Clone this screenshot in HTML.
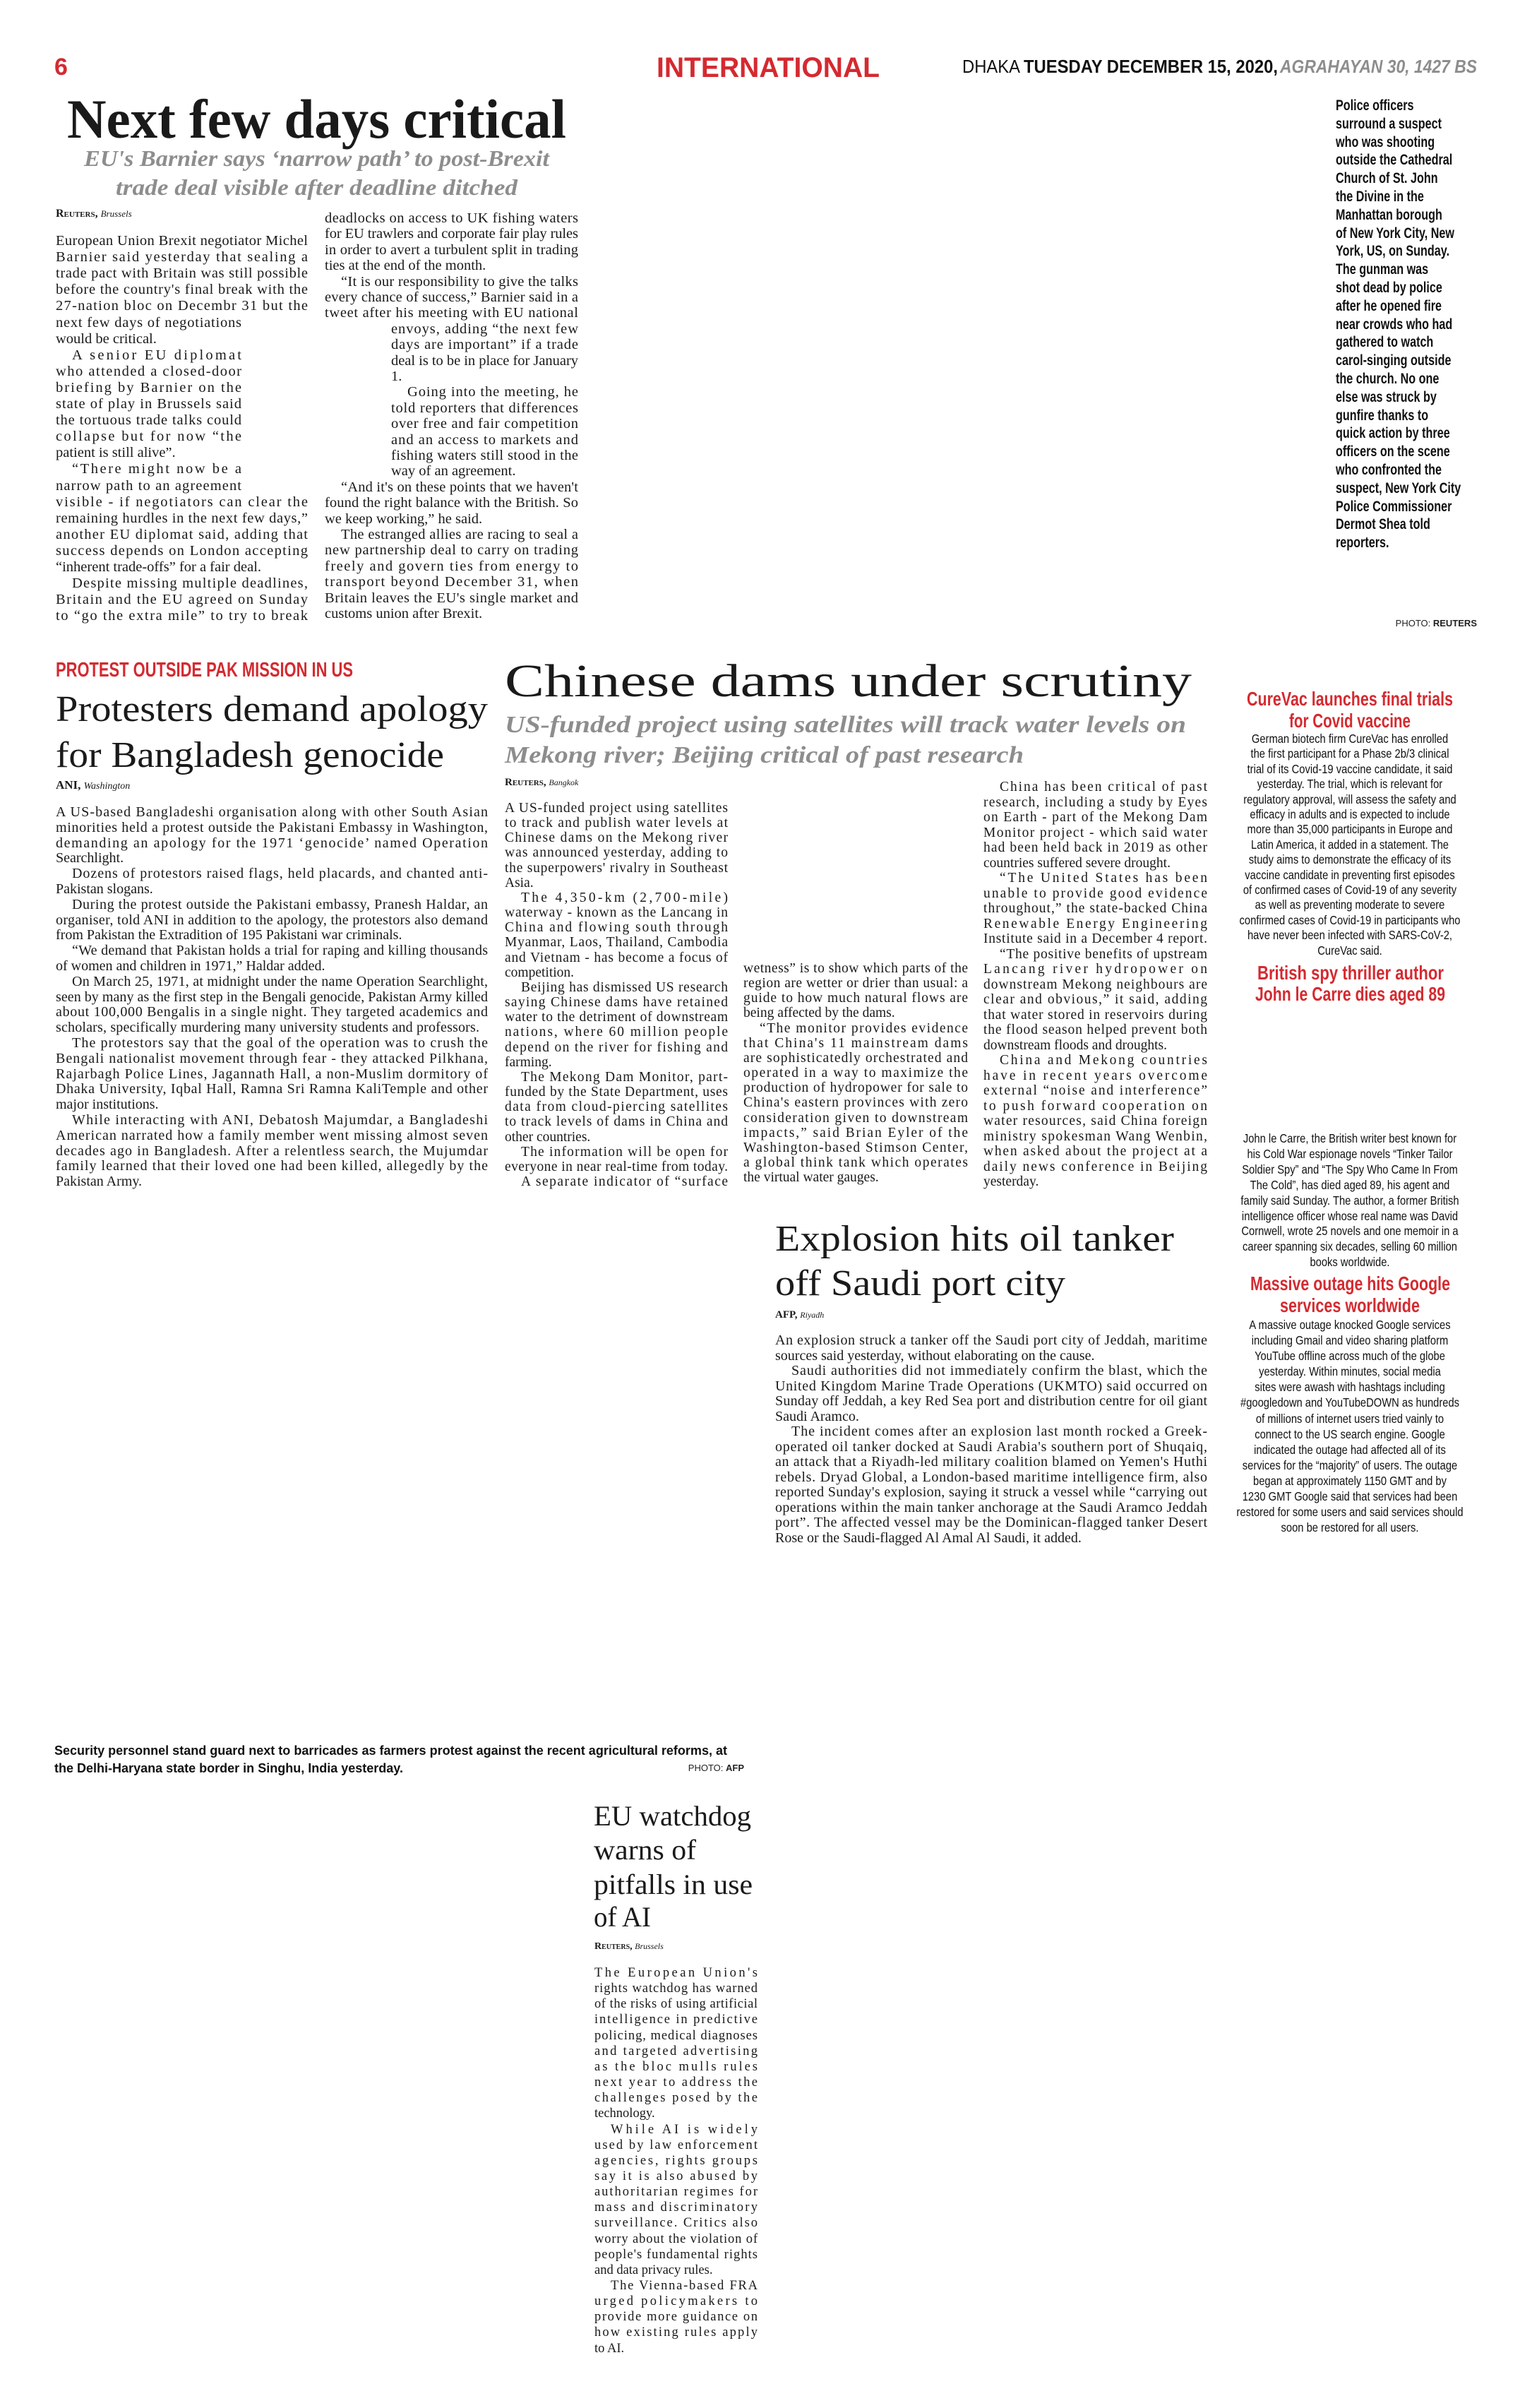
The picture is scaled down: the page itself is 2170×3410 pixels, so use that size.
<!DOCTYPE html>
<html><head><meta charset="utf-8">
<style>
html,body{margin:0;padding:0;background:#fff;}
svg{display:block;}
.s{font-family:"Liberation Serif",serif;fill:#1a1a1a;}
.a{font-family:"Liberation Sans",sans-serif;}
.t1{font-size:20.5px;}
.t2{font-size:20px;}
.t3{font-size:19.5px;}
.t4{font-size:18.5px;}
.red{fill:#d42a30;}
.gray{fill:#8d8d8d;}
</style></head>
<body>
<svg width="2170" height="3410" viewBox="0 0 2170 3410" xmlns="http://www.w3.org/2000/svg">
<rect width="2170" height="3410" fill="#fff"/>

<!-- Masthead -->
<text x="77" y="106" class="a red" font-size="34" font-weight="bold">6</text>
<text x="930" y="109" class="a red" font-size="40" font-weight="bold" textLength="316" lengthAdjust="spacingAndGlyphs">INTERNATIONAL</text>
<text x="1363" y="103" class="a" font-size="26" fill="#111" textLength="82" lengthAdjust="spacingAndGlyphs">DHAKA</text>
<text x="1450" y="103" class="a" font-size="26" font-weight="bold" fill="#111" textLength="360" lengthAdjust="spacingAndGlyphs">TUESDAY DECEMBER 15, 2020,</text>
<text x="1813" y="103" class="a gray" font-size="26" font-weight="bold" font-style="italic" textLength="279" lengthAdjust="spacingAndGlyphs">AGRAHAYAN 30, 1427 BS</text>

<!-- Top story -->
<text x="95" y="195" class="s" font-size="78" font-weight="bold" fill="#000" textLength="707" lengthAdjust="spacingAndGlyphs">Next few days critical</text>
<text x="119" y="235" class="s gray" font-size="32" font-style="italic" font-weight="bold" textLength="659" lengthAdjust="spacingAndGlyphs">EU's Barnier says ‘narrow path’ to post-Brexit</text>
<text x="164" y="276" class="s gray" font-size="32" font-style="italic" font-weight="bold" textLength="569" lengthAdjust="spacingAndGlyphs">trade deal visible after deadline ditched</text>
<text x="79" y="307" class="s" font-size="16"><tspan font-weight="bold" font-variant="small-caps">Reuters,</tspan> <tspan font-style="italic" font-size="13">Brussels</tspan></text>

<g class="s t1">
<text x="79" y="347" textLength="357" lengthAdjust="spacing">European Union Brexit negotiator Michel</text>
<text x="79" y="370" textLength="357" lengthAdjust="spacing">Barnier said yesterday that sealing a</text>
<text x="79" y="393" textLength="357" lengthAdjust="spacing">trade pact with Britain was still possible</text>
<text x="79" y="416" textLength="357" lengthAdjust="spacing">before the country's final break with the</text>
<text x="79" y="439" textLength="357" lengthAdjust="spacing">27-nation bloc on Decembr 31 but the</text>
<text x="79" y="463" textLength="263" lengthAdjust="spacing">next few days of negotiations</text>
<text x="79" y="486">would be critical.</text>
<text x="102" y="509" textLength="240" lengthAdjust="spacing">A senior EU diplomat</text>
<text x="79" y="532" textLength="263" lengthAdjust="spacing">who attended a closed-door</text>
<text x="79" y="555" textLength="263" lengthAdjust="spacing">briefing by Barnier on the</text>
<text x="79" y="578" textLength="263" lengthAdjust="spacing">state of play in Brussels said</text>
<text x="79" y="601" textLength="263" lengthAdjust="spacing">the tortuous trade talks could</text>
<text x="79" y="624" textLength="263" lengthAdjust="spacing">collapse but for now “the</text>
<text x="79" y="647">patient is still alive”.</text>
<text x="102" y="670" textLength="240" lengthAdjust="spacing">“There might now be a</text>
<text x="79" y="694" textLength="263" lengthAdjust="spacing">narrow path to an agreement</text>
<text x="79" y="717" textLength="357" lengthAdjust="spacing">visible - if negotiators can clear the</text>
<text x="79" y="740" textLength="357" lengthAdjust="spacing">remaining hurdles in the next few days,”</text>
<text x="79" y="763" textLength="357" lengthAdjust="spacing">another EU diplomat said, adding that</text>
<text x="79" y="786" textLength="357" lengthAdjust="spacing">success depends on London accepting</text>
<text x="79" y="809">“inherent trade-offs” for a fair deal.</text>
<text x="102" y="832" textLength="334" lengthAdjust="spacing">Despite missing multiple deadlines,</text>
<text x="79" y="855" textLength="357" lengthAdjust="spacing">Britain and the EU agreed on Sunday</text>
<text x="79" y="878" textLength="357" lengthAdjust="spacing">to “go the extra mile” to try to break</text>

<text x="460" y="315" textLength="359" lengthAdjust="spacing">deadlocks on access to UK fishing waters</text>
<text x="460" y="337" textLength="359" lengthAdjust="spacing">for EU trawlers and corporate fair play rules</text>
<text x="460" y="360" textLength="359" lengthAdjust="spacing">in order to avert a turbulent split in trading</text>
<text x="460" y="382">ties at the end of the month.</text>
<text x="483" y="405" textLength="336" lengthAdjust="spacing">“It is our responsibility to give the talks</text>
<text x="460" y="427" textLength="359" lengthAdjust="spacing">every chance of success,” Barnier said in a</text>
<text x="460" y="449" textLength="359" lengthAdjust="spacing">tweet after his meeting with EU national</text>
<text x="554" y="472" textLength="265" lengthAdjust="spacing">envoys, adding “the next few</text>
<text x="554" y="494" textLength="265" lengthAdjust="spacing">days are important” if a trade</text>
<text x="554" y="517" textLength="265" lengthAdjust="spacing">deal is to be in place for January</text>
<text x="554" y="539">1.</text>
<text x="577" y="561" textLength="242" lengthAdjust="spacing">Going into the meeting, he</text>
<text x="554" y="584" textLength="265" lengthAdjust="spacing">told reporters that differences</text>
<text x="554" y="606" textLength="265" lengthAdjust="spacing">over free and fair competition</text>
<text x="554" y="629" textLength="265" lengthAdjust="spacing">and an access to markets and</text>
<text x="554" y="651" textLength="265" lengthAdjust="spacing">fishing waters still stood in the</text>
<text x="554" y="673">way of an agreement.</text>
<text x="483" y="696" textLength="336" lengthAdjust="spacing">“And it's on these points that we haven't</text>
<text x="460" y="718" textLength="359" lengthAdjust="spacing">found the right balance with the British. So</text>
<text x="460" y="741">we keep working,” he said.</text>
<text x="483" y="763" textLength="336" lengthAdjust="spacing">The estranged allies are racing to seal a</text>
<text x="460" y="785" textLength="359" lengthAdjust="spacing">new partnership deal to carry on trading</text>
<text x="460" y="808" textLength="359" lengthAdjust="spacing">freely and govern ties from energy to</text>
<text x="460" y="830" textLength="359" lengthAdjust="spacing">transport beyond December 31, when</text>
<text x="460" y="853" textLength="359" lengthAdjust="spacing">Britain leaves the EU's single market and</text>
<text x="460" y="875">customs union after Brexit.</text>
</g>

<!-- Police caption -->
<g transform="translate(1892,0) scale(0.77,1)" class="a" font-size="21" font-weight="bold" fill="#111">
<text x="0" y="156">Police officers</text>
<text x="0" y="182">surround a suspect</text>
<text x="0" y="208">who was shooting</text>
<text x="0" y="233">outside the Cathedral</text>
<text x="0" y="259">Church of St. John</text>
<text x="0" y="285">the Divine in the</text>
<text x="0" y="311">Manhattan borough</text>
<text x="0" y="337">of New York City, New</text>
<text x="0" y="362">York, US, on Sunday.</text>
<text x="0" y="388">The gunman was</text>
<text x="0" y="414">shot dead by police</text>
<text x="0" y="440">after he opened fire</text>
<text x="0" y="466">near crowds who had</text>
<text x="0" y="491">gathered to watch</text>
<text x="0" y="517">carol-singing outside</text>
<text x="0" y="543">the church. No one</text>
<text x="0" y="569">else was struck by</text>
<text x="0" y="595">gunfire thanks to</text>
<text x="0" y="620">quick action by three</text>
<text x="0" y="646">officers on the scene</text>
<text x="0" y="672">who confronted the</text>
<text x="0" y="698">suspect, New York City</text>
<text x="0" y="724">Police Commissioner</text>
<text x="0" y="749">Dermot Shea told</text>
<text x="0" y="775">reporters.</text>
</g>
<text x="2092" y="887" class="a" font-size="13" text-anchor="end" fill="#222">PHOTO: <tspan font-weight="bold">REUTERS</tspan></text>

<!-- Protest -->
<text x="79" y="958" class="a red" font-size="29" font-weight="bold" textLength="421" lengthAdjust="spacingAndGlyphs">PROTEST OUTSIDE PAK MISSION IN US</text>
<text x="79" y="1021" class="s" font-size="52" fill="#000" textLength="612" lengthAdjust="spacingAndGlyphs">Protesters demand apology</text>
<text x="79" y="1086" class="s" font-size="52" fill="#000" textLength="550" lengthAdjust="spacingAndGlyphs">for Bangladesh genocide</text>
<text x="79" y="1117" class="s" font-size="17"><tspan font-weight="bold">ANI,</tspan> <tspan font-style="italic" font-size="14">Washington</tspan></text>
<g class="s t2">
<text x="79" y="1156" textLength="612" lengthAdjust="spacing">A US-based Bangladeshi organisation along with other South Asian</text>
<text x="79" y="1178" textLength="612" lengthAdjust="spacing">minorities held a protest outside the Pakistani Embassy in Washington,</text>
<text x="79" y="1200" textLength="612" lengthAdjust="spacing">demanding an apology for the 1971 ‘genocide’ named Operation</text>
<text x="79" y="1221">Searchlight.</text>
<text x="102" y="1243" textLength="589" lengthAdjust="spacing">Dozens of protestors raised flags, held placards, and chanted anti-</text>
<text x="79" y="1265">Pakistan slogans.</text>
<text x="102" y="1287" textLength="589" lengthAdjust="spacing">During the protest outside the Pakistani embassy, Pranesh Haldar, an</text>
<text x="79" y="1309" textLength="612" lengthAdjust="spacing">organiser, told ANI in addition to the apology, the protestors also demand</text>
<text x="79" y="1330">from Pakistan the Extradition of 195 Pakistani war criminals.</text>
<text x="102" y="1352" textLength="589" lengthAdjust="spacing">“We demand that Pakistan holds a trial for raping and killing thousands</text>
<text x="79" y="1374">of women and children in 1971,” Haldar added.</text>
<text x="102" y="1396" textLength="589" lengthAdjust="spacing">On March 25, 1971, at midnight under the name Operation Searchlight,</text>
<text x="79" y="1418" textLength="612" lengthAdjust="spacing">seen by many as the first step in the Bengali genocide, Pakistan Army killed</text>
<text x="79" y="1439" textLength="612" lengthAdjust="spacing">about 100,000 Bengalis in a single night. They targeted academics and</text>
<text x="79" y="1461" textLength="600" lengthAdjust="spacing">scholars, specifically murdering many university students and professors.</text>
<text x="102" y="1483" textLength="589" lengthAdjust="spacing">The protestors say that the goal of the operation was to crush the</text>
<text x="79" y="1505" textLength="612" lengthAdjust="spacing">Bengali nationalist movement through fear - they attacked Pilkhana,</text>
<text x="79" y="1527" textLength="612" lengthAdjust="spacing">Rajarbagh Police Lines, Jagannath Hall, a non-Muslim dormitory of</text>
<text x="79" y="1548" textLength="612" lengthAdjust="spacing">Dhaka University, Iqbal Hall, Ramna Sri Ramna KaliTemple and other</text>
<text x="79" y="1570">major institutions.</text>
<text x="102" y="1592" textLength="589" lengthAdjust="spacing">While interacting with ANI, Debatosh Majumdar, a Bangladeshi</text>
<text x="79" y="1614" textLength="612" lengthAdjust="spacing">American narrated how a family member went missing almost seven</text>
<text x="79" y="1636" textLength="612" lengthAdjust="spacing">decades ago in Bangladesh.  After a relentless search, the Mujumdar</text>
<text x="79" y="1657" textLength="612" lengthAdjust="spacing">family learned that their loved one had been killed, allegedly by the</text>
<text x="79" y="1679">Pakistan Army.</text>
</g>

<!-- Chinese dams -->
<text x="715" y="986" class="s" font-size="66" fill="#000" textLength="973" lengthAdjust="spacingAndGlyphs">Chinese dams under scrutiny</text>
<text x="715" y="1037" class="s gray" font-size="34" font-style="italic" font-weight="bold" textLength="965" lengthAdjust="spacingAndGlyphs">US-funded project using satellites will track water levels on</text>
<text x="715" y="1080" class="s gray" font-size="34" font-style="italic" font-weight="bold" textLength="735" lengthAdjust="spacingAndGlyphs">Mekong river; Beijing critical of past research</text>
<text x="715" y="1112" class="s" font-size="15"><tspan font-weight="bold" font-variant="small-caps">Reuters,</tspan> <tspan font-style="italic" font-size="12">Bangkok</tspan></text>
<g class="s t3">
<text x="715" y="1150" textLength="316" lengthAdjust="spacing">A US-funded project using satellites</text>
<text x="715" y="1171" textLength="316" lengthAdjust="spacing">to track and publish water levels at</text>
<text x="715" y="1192" textLength="316" lengthAdjust="spacing">Chinese dams on the Mekong river</text>
<text x="715" y="1213" textLength="316" lengthAdjust="spacing">was announced yesterday, adding to</text>
<text x="715" y="1235" textLength="316" lengthAdjust="spacing">the superpowers' rivalry in Southeast</text>
<text x="715" y="1256">Asia.</text>
<text x="738" y="1277" textLength="293" lengthAdjust="spacing">The 4,350-km (2,700-mile)</text>
<text x="715" y="1298" textLength="316" lengthAdjust="spacing">waterway - known as the Lancang in</text>
<text x="715" y="1319" textLength="316" lengthAdjust="spacing">China and flowing south through</text>
<text x="715" y="1340" textLength="316" lengthAdjust="spacing">Myanmar, Laos, Thailand, Cambodia</text>
<text x="715" y="1362" textLength="316" lengthAdjust="spacing">and Vietnam - has become a focus of</text>
<text x="715" y="1383">competition.</text>
<text x="738" y="1404" textLength="293" lengthAdjust="spacing">Beijing has dismissed US research</text>
<text x="715" y="1425" textLength="316" lengthAdjust="spacing">saying Chinese dams have retained</text>
<text x="715" y="1446" textLength="316" lengthAdjust="spacing">water to the detriment of downstream</text>
<text x="715" y="1467" textLength="316" lengthAdjust="spacing">nations, where 60 million people</text>
<text x="715" y="1489" textLength="316" lengthAdjust="spacing">depend on the river for fishing and</text>
<text x="715" y="1510">farming.</text>
<text x="738" y="1531" textLength="293" lengthAdjust="spacing">The Mekong Dam Monitor, part-</text>
<text x="715" y="1552" textLength="316" lengthAdjust="spacing">funded by the State Department, uses</text>
<text x="715" y="1573" textLength="316" lengthAdjust="spacing">data from cloud-piercing satellites</text>
<text x="715" y="1594" textLength="316" lengthAdjust="spacing">to track levels of dams in China and</text>
<text x="715" y="1616">other countries.</text>
<text x="738" y="1637" textLength="293" lengthAdjust="spacing">The information will be open for</text>
<text x="715" y="1658" textLength="316" lengthAdjust="spacing">everyone in near real-time from today.</text>
<text x="738" y="1679" textLength="293" lengthAdjust="spacing">A separate indicator of “surface</text>

<text x="1053" y="1377" textLength="318" lengthAdjust="spacing">wetness” is to show which parts of the</text>
<text x="1053" y="1398" textLength="318" lengthAdjust="spacing">region are wetter or drier than usual: a</text>
<text x="1053" y="1419" textLength="318" lengthAdjust="spacing">guide to how much natural flows are</text>
<text x="1053" y="1440">being affected by the dams.</text>
<text x="1076" y="1462" textLength="295" lengthAdjust="spacing">“The monitor provides evidence</text>
<text x="1053" y="1483" textLength="318" lengthAdjust="spacing">that China's 11 mainstream dams</text>
<text x="1053" y="1504" textLength="318" lengthAdjust="spacing">are sophisticatedly orchestrated and</text>
<text x="1053" y="1525" textLength="318" lengthAdjust="spacing">operated in a way to maximize the</text>
<text x="1053" y="1546" textLength="318" lengthAdjust="spacing">production of hydropower for sale to</text>
<text x="1053" y="1567" textLength="318" lengthAdjust="spacing">China's eastern provinces with zero</text>
<text x="1053" y="1589" textLength="318" lengthAdjust="spacing">consideration given to downstream</text>
<text x="1053" y="1610" textLength="318" lengthAdjust="spacing">impacts,” said Brian Eyler of the</text>
<text x="1053" y="1631" textLength="318" lengthAdjust="spacing">Washington-based Stimson Center,</text>
<text x="1053" y="1652" textLength="318" lengthAdjust="spacing">a global think tank which operates</text>
<text x="1053" y="1673">the virtual water gauges.</text>

<text x="1416" y="1120" textLength="294" lengthAdjust="spacing">China has been critical of past</text>
<text x="1393" y="1142" textLength="317" lengthAdjust="spacing">research, including a study by Eyes</text>
<text x="1393" y="1163" textLength="317" lengthAdjust="spacing">on Earth - part of the Mekong Dam</text>
<text x="1393" y="1185" textLength="317" lengthAdjust="spacing">Monitor project - which said water</text>
<text x="1393" y="1206" textLength="317" lengthAdjust="spacing">had been held back in 2019 as other</text>
<text x="1393" y="1228">countries suffered severe drought.</text>
<text x="1416" y="1249" textLength="294" lengthAdjust="spacing">“The United States has been</text>
<text x="1393" y="1271" textLength="317" lengthAdjust="spacing">unable to provide good evidence</text>
<text x="1393" y="1292" textLength="317" lengthAdjust="spacing">throughout,” the state-backed China</text>
<text x="1393" y="1314" textLength="317" lengthAdjust="spacing">Renewable Energy Engineering</text>
<text x="1393" y="1335" textLength="317" lengthAdjust="spacing">Institute said in a December 4 report.</text>
<text x="1416" y="1357" textLength="294" lengthAdjust="spacing">“The positive benefits of upstream</text>
<text x="1393" y="1378" textLength="317" lengthAdjust="spacing">Lancang river hydropower on</text>
<text x="1393" y="1400" textLength="317" lengthAdjust="spacing">downstream Mekong neighbours are</text>
<text x="1393" y="1421" textLength="317" lengthAdjust="spacing">clear and obvious,” it said, adding</text>
<text x="1393" y="1443" textLength="317" lengthAdjust="spacing">that water stored in reservoirs during</text>
<text x="1393" y="1464" textLength="317" lengthAdjust="spacing">the flood season helped prevent both</text>
<text x="1393" y="1486">downstream floods and droughts.</text>
<text x="1416" y="1507" textLength="294" lengthAdjust="spacing">China and Mekong countries</text>
<text x="1393" y="1529" textLength="317" lengthAdjust="spacing">have in recent years overcome</text>
<text x="1393" y="1550" textLength="317" lengthAdjust="spacing">external “noise and interference”</text>
<text x="1393" y="1572" textLength="317" lengthAdjust="spacing">to push forward cooperation on</text>
<text x="1393" y="1593" textLength="317" lengthAdjust="spacing">water resources, said China foreign</text>
<text x="1393" y="1615" textLength="317" lengthAdjust="spacing">ministry spokesman Wang Wenbin,</text>
<text x="1393" y="1636" textLength="317" lengthAdjust="spacing">when asked about the project at a</text>
<text x="1393" y="1658" textLength="317" lengthAdjust="spacing">daily news conference in Beijing</text>
<text x="1393" y="1679">yesterday.</text>
</g>

<!-- Right briefs -->
<text x="1766" y="999" class="a red" font-size="28" font-weight="bold" textLength="292" lengthAdjust="spacingAndGlyphs">CureVac launches final trials</text>
<text x="1826" y="1030" class="a red" font-size="28" font-weight="bold" textLength="172" lengthAdjust="spacingAndGlyphs">for Covid vaccine</text>
<g transform="translate(1912,0) scale(0.82,1)" class="a" font-size="18" fill="#111" text-anchor="middle">
<text x="0" y="1052">German biotech firm CureVac has enrolled</text>
<text x="0" y="1073">the first participant for a Phase 2b/3 clinical</text>
<text x="0" y="1095">trial of its Covid-19 vaccine candidate, it said</text>
<text x="0" y="1116">yesterday. The trial, which is relevant for</text>
<text x="0" y="1138">regulatory approval, will assess the safety and</text>
<text x="0" y="1159">efficacy in adults and is expected to include</text>
<text x="0" y="1180">more than 35,000 participants in Europe and</text>
<text x="0" y="1202">Latin America, it added in a statement. The</text>
<text x="0" y="1223">study aims to demonstrate the efficacy of its</text>
<text x="0" y="1245">vaccine candidate in preventing first episodes</text>
<text x="0" y="1266">of confirmed cases of Covid-19 of any severity</text>
<text x="0" y="1287">as well as preventing moderate to severe</text>
<text x="0" y="1309">confirmed cases of Covid-19 in participants who</text>
<text x="0" y="1330">have never been infected with SARS-CoV-2,</text>
<text x="0" y="1352">CureVac said.</text>
</g>
<text x="1781" y="1387" class="a red" font-size="28" font-weight="bold" textLength="264" lengthAdjust="spacingAndGlyphs">British spy thriller author</text>
<text x="1778" y="1417" class="a red" font-size="28" font-weight="bold" textLength="269" lengthAdjust="spacingAndGlyphs">John le Carre dies aged 89</text>

<g transform="translate(1912,0) scale(0.82,1)" class="a" font-size="18" fill="#111" text-anchor="middle">
<text x="0" y="1618">John le Carre, the British writer best known for</text>
<text x="0" y="1640">his Cold War espionage novels “Tinker Tailor</text>
<text x="0" y="1662">Soldier Spy” and “The Spy Who Came In From</text>
<text x="0" y="1684">The Cold”, has died aged 89, his agent and</text>
<text x="0" y="1706">family said Sunday. The author, a former British</text>
<text x="0" y="1728">intelligence officer whose real name was David</text>
<text x="0" y="1749">Cornwell, wrote 25 novels and one memoir in a</text>
<text x="0" y="1771">career spanning six decades, selling 60 million</text>
<text x="0" y="1793">books worldwide.</text>
</g>
<text x="1771" y="1827" class="a red" font-size="28" font-weight="bold" textLength="283" lengthAdjust="spacingAndGlyphs">Massive outage hits Google</text>
<text x="1813" y="1858" class="a red" font-size="28" font-weight="bold" textLength="198" lengthAdjust="spacingAndGlyphs">services worldwide</text>
<g transform="translate(1912,0) scale(0.82,1)" class="a" font-size="18" fill="#111" text-anchor="middle">
<text x="0" y="1882">A massive outage knocked Google services</text>
<text x="0" y="1904">including Gmail and video sharing platform</text>
<text x="0" y="1926">YouTube offline across much of the globe</text>
<text x="0" y="1948">yesterday. Within minutes, social media</text>
<text x="0" y="1970">sites were awash with hashtags including</text>
<text x="0" y="1992">#googledown and YouTubeDOWN as hundreds</text>
<text x="0" y="2015">of millions of internet users tried vainly to</text>
<text x="0" y="2037">connect to the US search engine. Google</text>
<text x="0" y="2059">indicated the outage had affected all of its</text>
<text x="0" y="2081">services for the “majority” of users. The outage</text>
<text x="0" y="2103">began at approximately 1150 GMT and by</text>
<text x="0" y="2125">1230 GMT Google said that services had been</text>
<text x="0" y="2147">restored for some users and said services should</text>
<text x="0" y="2169">soon be restored for all users.</text>
</g>

<!-- Explosion -->
<text x="1098" y="1771" class="s" font-size="52" fill="#000" textLength="565" lengthAdjust="spacingAndGlyphs">Explosion hits oil tanker</text>
<text x="1098" y="1834" class="s" font-size="52" fill="#000" textLength="411" lengthAdjust="spacingAndGlyphs">off Saudi port city</text>
<text x="1098" y="1866" class="s" font-size="15"><tspan font-weight="bold">AFP,</tspan> <tspan font-style="italic" font-size="12">Riyadh</tspan></text>
<g class="s t2">
<text x="1098" y="1904" textLength="612" lengthAdjust="spacing">An explosion struck a tanker off the Saudi port city of Jeddah, maritime</text>
<text x="1098" y="1926">sources said yesterday, without elaborating on the cause.</text>
<text x="1121" y="1947" textLength="589" lengthAdjust="spacing">Saudi authorities did not immediately confirm the blast, which the</text>
<text x="1098" y="1969" textLength="612" lengthAdjust="spacing">United Kingdom Marine Trade Operations (UKMTO) said occurred on</text>
<text x="1098" y="1990" textLength="612" lengthAdjust="spacing">Sunday off Jeddah, a key Red Sea port and distribution centre for oil giant</text>
<text x="1098" y="2012">Saudi Aramco.</text>
<text x="1121" y="2033" textLength="589" lengthAdjust="spacing">The incident comes after an explosion last month rocked a Greek-</text>
<text x="1098" y="2055" textLength="612" lengthAdjust="spacing">operated oil tanker docked at Saudi Arabia's southern port of Shuqaiq,</text>
<text x="1098" y="2076" textLength="612" lengthAdjust="spacing">an attack that a Riyadh-led military coalition blamed on Yemen's Huthi</text>
<text x="1098" y="2098" textLength="612" lengthAdjust="spacing">rebels. Dryad Global, a London-based maritime intelligence firm, also</text>
<text x="1098" y="2119" textLength="612" lengthAdjust="spacing">reported Sunday's explosion, saying it struck a vessel while “carrying out</text>
<text x="1098" y="2141" textLength="612" lengthAdjust="spacing">operations within the main tanker anchorage at the Saudi Aramco Jeddah</text>
<text x="1098" y="2162" textLength="612" lengthAdjust="spacing">port”. The affected vessel may be the Dominican-flagged tanker Desert</text>
<text x="1098" y="2184">Rose or the Saudi-flagged Al Amal Al Saudi, it added.</text>
</g>

<!-- Bottom photo caption -->
<text x="77" y="2485" class="a" font-size="18" font-weight="bold" fill="#111" textLength="953" lengthAdjust="spacingAndGlyphs">Security personnel stand guard next to barricades as farmers protest against the recent agricultural reforms, at</text>
<text x="77" y="2510" class="a" font-size="18" font-weight="bold" fill="#111" textLength="494" lengthAdjust="spacingAndGlyphs">the Delhi-Haryana state border in Singhu, India yesterday.</text>
<text x="1054" y="2508" class="a" font-size="13" text-anchor="end" fill="#222">PHOTO: <tspan font-weight="bold">AFP</tspan></text>

<!-- EU watchdog -->
<text x="841" y="2585" class="s" font-size="40" fill="#000" textLength="223" lengthAdjust="spacingAndGlyphs">EU watchdog</text>
<text x="841" y="2633" class="s" font-size="40" fill="#000" textLength="145" lengthAdjust="spacingAndGlyphs">warns of</text>
<text x="841" y="2682" class="s" font-size="40" fill="#000" textLength="225" lengthAdjust="spacingAndGlyphs">pitfalls in use</text>
<text x="841" y="2728" class="s" font-size="40" fill="#000" textLength="81" lengthAdjust="spacingAndGlyphs">of AI</text>
<text x="842" y="2760" class="s" font-size="14"><tspan font-weight="bold" font-variant="small-caps">Reuters,</tspan> <tspan font-style="italic" font-size="12">Brussels</tspan></text>
<g class="s t4">
<text x="842" y="2799" textLength="231" lengthAdjust="spacing">The European Union's</text>
<text x="842" y="2821" textLength="231" lengthAdjust="spacing">rights watchdog has warned</text>
<text x="842" y="2843" textLength="231" lengthAdjust="spacing">of the risks of using artificial</text>
<text x="842" y="2865" textLength="231" lengthAdjust="spacing">intelligence in predictive</text>
<text x="842" y="2888" textLength="231" lengthAdjust="spacing">policing, medical diagnoses</text>
<text x="842" y="2910" textLength="231" lengthAdjust="spacing">and targeted advertising</text>
<text x="842" y="2932" textLength="231" lengthAdjust="spacing">as the bloc mulls rules</text>
<text x="842" y="2954" textLength="231" lengthAdjust="spacing">next year to address the</text>
<text x="842" y="2976" textLength="231" lengthAdjust="spacing">challenges posed by the</text>
<text x="842" y="2998">technology.</text>
<text x="865" y="3021" textLength="208" lengthAdjust="spacing">While AI is widely</text>
<text x="842" y="3043" textLength="231" lengthAdjust="spacing">used by law enforcement</text>
<text x="842" y="3065" textLength="231" lengthAdjust="spacing">agencies, rights groups</text>
<text x="842" y="3087" textLength="231" lengthAdjust="spacing">say it is also abused by</text>
<text x="842" y="3109" textLength="231" lengthAdjust="spacing">authoritarian regimes for</text>
<text x="842" y="3131" textLength="231" lengthAdjust="spacing">mass and discriminatory</text>
<text x="842" y="3153" textLength="231" lengthAdjust="spacing">surveillance. Critics also</text>
<text x="842" y="3176" textLength="231" lengthAdjust="spacing">worry about the violation of</text>
<text x="842" y="3198" textLength="231" lengthAdjust="spacing">people's fundamental rights</text>
<text x="842" y="3220">and data privacy rules.</text>
<text x="865" y="3242" textLength="208" lengthAdjust="spacing">The Vienna-based FRA</text>
<text x="842" y="3264" textLength="231" lengthAdjust="spacing">urged policymakers to</text>
<text x="842" y="3286" textLength="231" lengthAdjust="spacing">provide more guidance on</text>
<text x="842" y="3308" textLength="231" lengthAdjust="spacing">how existing rules apply</text>
<text x="842" y="3331">to AI.</text>
</g>
</svg>
</body></html>
